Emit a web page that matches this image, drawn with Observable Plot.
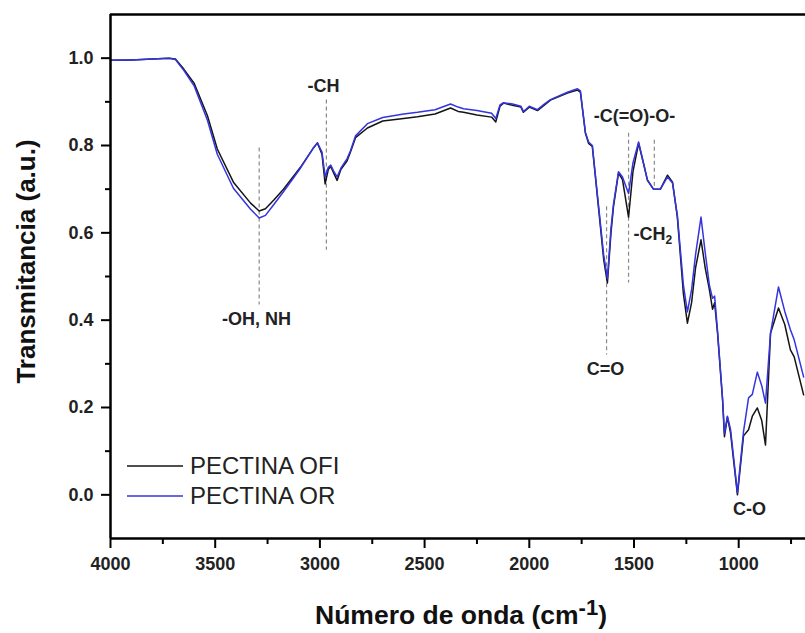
<!DOCTYPE html>
<html><head><meta charset="utf-8">
<script src="https://cdn.jsdelivr.net/npm/d3@7"></script>
<script src="https://cdn.jsdelivr.net/npm/@observablehq/plot@0.6"></script>
<style>
body{margin:0;background:#fff;font-family:"Liberation Sans",Arial,sans-serif;}
#wrap{position:relative;width:805px;height:633px;overflow:hidden;background:#fff;}
.legend{position:absolute;left:127px;top:451px;font-size:24px;color:#222;line-height:30px;}
.item{display:flex;align-items:center;height:30px;white-space:nowrap;}
.item svg{margin-right:7px;}
</style></head><body><div id="wrap"></div>
<script>
// Wavenumber (cm-1) and transmittance values
const wavenumber = [4000,3900,3800,3720,3690,3650,3600,3537,3490,3413,3331,3290,3260,3220,3174,3093,3030,3012,2990,2975,2960,2948,2935,2918,2900,2870,2854,2830,2773,2700,2600,2534,2450,2376,2340,2314,2250,2180,2160,2140,2123,2080,2040,2028,2000,1961,1930,1899,1818,1770,1756,1732,1717,1699,1670,1645,1627,1610,1598,1574,1555,1526,1505,1478,1455,1436,1407,1374,1340,1316,1293,1264,1245,1225,1206,1180,1160,1140,1125,1115,1101,1077,1068,1054,1039,1006,977,953,935,911,890,872,848,810,780,753,735,690];
const ofi = [0.995,0.996,0.998,1.0,0.998,0.975,0.942,0.868,0.792,0.716,0.668,0.650,0.655,0.675,0.700,0.750,0.795,0.806,0.780,0.712,0.745,0.752,0.738,0.720,0.745,0.765,0.785,0.818,0.840,0.856,0.862,0.866,0.872,0.886,0.878,0.876,0.870,0.865,0.854,0.890,0.897,0.892,0.888,0.876,0.888,0.880,0.892,0.904,0.920,0.927,0.922,0.828,0.805,0.798,0.660,0.540,0.485,0.600,0.660,0.737,0.722,0.636,0.740,0.805,0.760,0.720,0.700,0.700,0.732,0.716,0.636,0.460,0.393,0.440,0.520,0.584,0.520,0.470,0.425,0.440,0.370,0.217,0.133,0.178,0.142,0.000,0.135,0.149,0.180,0.199,0.170,0.114,0.370,0.428,0.390,0.332,0.316,0.229];
const orSeries = [0.995,0.996,0.998,1.0,0.997,0.972,0.936,0.858,0.780,0.702,0.654,0.634,0.640,0.665,0.694,0.748,0.795,0.806,0.785,0.728,0.750,0.755,0.742,0.728,0.748,0.770,0.788,0.822,0.850,0.864,0.872,0.876,0.882,0.895,0.888,0.884,0.880,0.874,0.862,0.893,0.898,0.895,0.890,0.878,0.890,0.882,0.894,0.905,0.922,0.930,0.925,0.830,0.808,0.800,0.665,0.550,0.495,0.610,0.665,0.740,0.728,0.690,0.760,0.808,0.760,0.722,0.700,0.700,0.728,0.714,0.640,0.480,0.419,0.470,0.550,0.636,0.555,0.480,0.450,0.455,0.375,0.220,0.140,0.180,0.150,0.005,0.145,0.222,0.230,0.281,0.250,0.210,0.370,0.476,0.420,0.378,0.355,0.270];
const seriesNames = ["PECTINA OFI","PECTINA OR"];
const seriesColors = ["#141414","#3434e0"];

// Axis ticks
const xTicks = [4000,3500,3000,2500,2000,1500,1000];
const xMinor = [3750,3250,2750,2250,1750,1250,750];
const yTicks = [0,0.2,0.4,0.6,0.8,1.0];
const yMinor = [0.1,0.3,0.5,0.7,0.9];

// Band annotations (dashed markers)
const bandWave = [3290,2969,1631,1526,1403];
const bandTop = [0.794,0.904,0.66,0.828,0.812];
const bandBottom = [0.435,0.56,0.32,0.485,0.70];

// Band labels (centered)
const annLabel = ["-OH, NH","-CH","-C(=O)-O-","C=O","C-O"];
const annWave = [3303,2983,1498,1636,948];
const annTrans = [0.403,0.936,0.867,0.288,-0.034];
// Band label (left-aligned)
const sideLabel = ["-CH2"];
const sideWave = [1502];
const sideTrans = [0.597];

const xLabel = "Número de onda (cm-1)";
const yLabel = "Transmitancia (a.u.)";

const font = "'Liberation Sans', Arial, sans-serif";
const idx = d3.range(wavenumber.length);
const W = 805, H = 633, mL = 110, mR = 0, mT = 14, mB = 95;
const frameW = W - mL - mR, frameH = H - mT - mB;

const plot = Plot.plot({
  width: W,
  height: H,
  marginLeft: mL,
  marginRight: mR,
  marginTop: mT,
  marginBottom: mB,
  style: {fontFamily: font, background: "#fff"},
  x: {domain: [4000, 681], axis: null},
  y: {domain: [-0.1, 1.1], axis: null},
  marks: [
    // dashed band markers
    Plot.ruleX(d3.range(bandWave.length), {x: i => bandWave[i], y1: i => bandTop[i], y2: i => bandBottom[i], stroke: "#8a8a8a", strokeWidth: 1.2, strokeDasharray: "4,3"}),
    // spectra
    Plot.line(idx, {x: i => wavenumber[i], y: i => ofi[i], stroke: seriesColors[0], strokeWidth: 1.5}),
    Plot.line(idx, {x: i => wavenumber[i], y: i => orSeries[i], stroke: seriesColors[1], strokeWidth: 1.5}),
    // tick labels
    Plot.axisX({ticks: xTicks, tickSize: 0, tickPadding: 19, fontSize: 18, fontWeight: "bold", fill: "#222", label: null, tickFormat: d => String(d)}),
    Plot.axisY({ticks: yTicks, tickSize: 0, tickPadding: 17, fontSize: 18, fontWeight: "bold", fill: "#222", label: null, tickFormat: d3.format(".1f")}),
    // annotation labels
    Plot.text(d3.range(annLabel.length), {x: i => annWave[i], y: i => annTrans[i], text: i => annLabel[i], fontSize: 18, fontWeight: "bold", fill: "#222"}),
    Plot.text(d3.range(sideLabel.length), {x: i => sideWave[i], y: i => sideTrans[i], text: i => sideLabel[i], textAnchor: "start", fontSize: 18, fontWeight: "bold", fill: "#222"}),
    // axis titles
    Plot.text([yLabel], {frameAnchor: "left", textAnchor: "middle", lineAnchor: "middle", rotate: -90, dx: -84, dy: -15, fontSize: 26, fontWeight: "bold", fill: "#111"}),
    Plot.text([xLabel], {frameAnchor: "bottom", textAnchor: "middle", lineAnchor: "middle", dx: 3, dy: 77, fontSize: 26.5, fontWeight: "bold", fill: "#111"}),
    // axes frame
    Plot.ruleX([4000], {stroke: "#000", strokeWidth: 2.5}),
    Plot.ruleY([-0.1], {stroke: "#000", strokeWidth: 2.5}),
    Plot.ruleY([1.1], {stroke: "#000", strokeWidth: 2.5}),
    // tick marks (outward), drawn last
    Plot.tickX(xTicks, {x: d => d, insetTop: frameH, insetBottom: -10, stroke: "#000", strokeWidth: 2}),
    Plot.tickX(xMinor, {x: d => d, insetTop: frameH, insetBottom: -6, stroke: "#000", strokeWidth: 2}),
    Plot.tickY(yTicks, {y: d => d, insetLeft: -9, insetRight: frameW, stroke: "#000", strokeWidth: 2}),
    Plot.tickY(yMinor, {y: d => d, insetLeft: -5, insetRight: frameW, stroke: "#000", strokeWidth: 2})
  ]
});

// superscript / subscript handling
d3.select(plot).selectAll("text").each(function() {
  const t = d3.select(this);
  const s = this.textContent;
  if (s === xLabel) {
    t.text(null);
    t.append("tspan").text("Número de onda (cm");
    t.append("tspan").attr("dy", "-0.42em").attr("font-size", "22px").text("-1");
    t.append("tspan").attr("dy", "0.36em").text(")");
  } else if (s === "-CH2") {
    t.text(null);
    t.append("tspan").text("-CH");
    t.append("tspan").attr("dy", "0.3em").attr("font-size", "12px").text("2");
  }
});

const wrap = document.getElementById("wrap");
wrap.appendChild(plot);

// legend
const legend = document.createElement("div");
legend.className = "legend";
seriesNames.forEach((name, i) => {
  const item = document.createElement("div");
  item.className = "item";
  item.innerHTML = `<svg width="56" height="4"><line x1="0" x2="56" y1="2" y2="2" stroke="${seriesColors[i]}" stroke-width="1.5"/></svg><span>${name}</span>`;
  legend.appendChild(item);
});
wrap.appendChild(legend);
</script>
</body></html>
